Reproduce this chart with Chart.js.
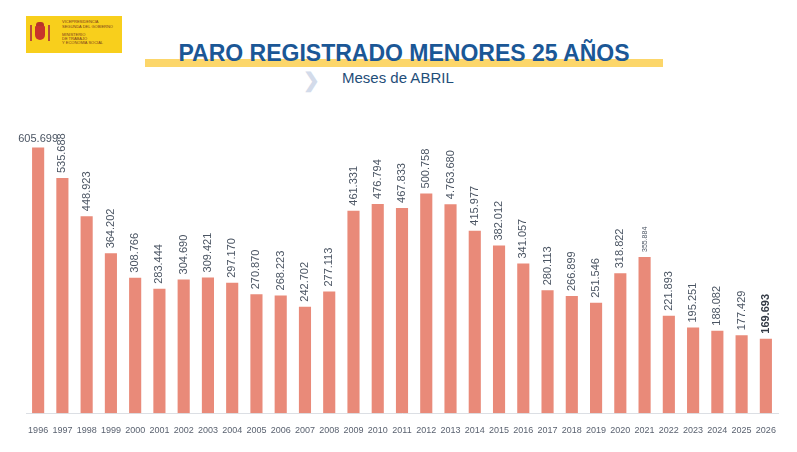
<!DOCTYPE html>
<html lang="es">
<head>
<meta charset="utf-8">
<title>Paro registrado menores 25 años</title>
<script src="https://cdn.jsdelivr.net/npm/chart.js@4.4.1/dist/chart.umd.min.js"></script>
<style>
  html, body { margin: 0; padding: 0; background: #fff; }
  #wrap { position: relative; width: 797px; height: 452px; overflow: hidden; font-family: "Liberation Sans", Arial, sans-serif; }
  #chart { position: absolute; left: 0; top: 0; }
  .logo { position: absolute; left: 26px; top: 16px; width: 96px; height: 37px; background: #f8cf1c; }
  .logo .shield { position: absolute; left: 9px; top: 10px; width: 10px; height: 14px; background: #c8332b; border-radius: 1px 1px 5px 5px; }
  .logo .crown { position: absolute; left: 10px; top: 6px; width: 8px; height: 4px; background: #b8322a; border-radius: 3px 3px 0 0; }
  .logo .col { position: absolute; top: 9px; width: 2px; height: 16px; background: #b9493a; }
  .logo .txt { position: absolute; left: 36px; font-size: 4px; line-height: 4px; color: #7a3b1c; white-space: nowrap; letter-spacing: 0; }
  .band { position: absolute; left: 145px; top: 59px; width: 518px; height: 8px; background: #fcd66a; }
  .title { position: absolute; left: 0; width: 808px; top: 40px; text-align: center; font-weight: bold; font-size: 23px; color: #1b5796; }
  .chev { position: absolute; left: 303px; top: 68px; font-size: 20px; font-weight: bold; color: #d3dbea; }
  .sub { position: absolute; left: 342px; top: 69px; font-size: 15px; color: #1f4e79; }
</style>
</head>
<body>
<div id="wrap">
  <div class="logo">
    <div class="col" style="left:4px"></div>
    <div class="crown"></div>
    <div class="shield"></div>
    <div class="col" style="left:22px"></div>
    <div class="txt" style="top:4px">VICEPRESIDENCIA</div>
    <div class="txt" style="top:9px">SEGUNDA DEL GOBIERNO</div>
    <div class="txt" style="top:17px">MINISTERIO</div>
    <div class="txt" style="top:21px">DE TRABAJO</div>
    <div class="txt" style="top:25px">Y ECONOMÍA SOCIAL</div>
  </div>
  <div class="band"></div>
  <div class="title">PARO REGISTRADO MENORES 25 AÑOS</div>
  <div class="chev">&#x276F;</div>
  <div class="sub">Meses de ABRIL</div>
  <canvas id="chart" width="797" height="452"></canvas>
</div>
<script>
// Años (meses de abril)
const years = ['1996', '1997', '1998', '1999', '2000', '2001', '2002', '2003', '2004', '2005',
  '2006', '2007', '2008', '2009', '2010', '2011', '2012', '2013', '2014', '2015',
  '2016', '2017', '2018', '2019', '2020', '2021', '2022', '2023', '2024', '2025', '2026'];

// Parados menores de 25 años
const parados = [605699, 535688, 448923, 364202, 308766, 283444, 304690, 309421, 297170, 270870,
  268223, 242702, 277113, 461331, 476794, 467833, 500758, 476368, 415977, 382012,
  341057, 280113, 266899, 251546, 318822, 355884, 221893, 195251, 188082, 177429, 169693];

// Etiquetas tal como aparecen en el gráfico
const etiquetas = ['605.699', '535.688', '448.923', '364.202', '308.766', '283.444', '304.690', '309.421', '297.170', '270.870',
  '268.223', '242.702', '277.113', '461.331', '476.794', '467.833', '500.758', '4.763.680', '415.977', '382.012',
  '341.057', '280.113', '266.899', '251.546', '318.822', '355.884', '221.893', '195.251', '188.082', '177.429', '169.693'];

// Etiquetas de valor encima de cada barra
const valueLabels = {
    id: 'valueLabels',
    afterDatasetsDraw(chart) {
        const ctx = chart.ctx;
        const bars = chart.getDatasetMeta(0).data;
        ctx.save();
        bars.forEach((bar, i) => {
            const last = i === bars.length - 1;
            let size = 11;
            if (years[i] === '2021') size = 7;
            ctx.font = (last ? 'bold ' : '') + size + 'px "Liberation Sans", Arial, sans-serif';
            ctx.fillStyle = last ? '#333a45' : '#4b5563';
            if (i === 0) {
                ctx.textAlign = 'center';
                ctx.textBaseline = 'bottom';
                ctx.fillText(etiquetas[i], bar.x, bar.y - 3);
            } else {
                ctx.save();
                ctx.translate(bar.x, bar.y - 5);
                ctx.rotate(-Math.PI / 2);
                ctx.textAlign = 'left';
                ctx.textBaseline = 'middle';
                ctx.fillText(etiquetas[i], 0, 0);
                ctx.restore();
            }
        });
        ctx.restore();
    }
};

const createParoChart = () => {
    const ctx = document.getElementById('chart').getContext('2d');
    new Chart(ctx, {
        type: 'bar',
        data: {
            labels: years,
            datasets: [{
                label: 'Paro registrado menores 25 años',
                data: parados,
                backgroundColor: '#e98a79',
                barPercentage: 0.5,
                categoryPercentage: 1.0
            }]
        },
        options: {
            responsive: false,
            animation: false,
            layout: { padding: { left: 26, right: 19, top: 106, bottom: 12 } },
            plugins: {
                legend: { display: false },
                tooltip: { enabled: false }
            },
            scales: {
                x: {
                    grid: { display: false },
                    border: { display: true, color: '#dcdfe4' },
                    ticks: {
                        color: '#5a6270',
                        font: { size: 9, family: '"Liberation Sans", Arial, sans-serif' },
                        padding: 4,
                        maxRotation: 0,
                        autoSkip: false
                    }
                },
                y: {
                    display: false,
                    min: 0,
                    max: 700000
                }
            }
        },
        plugins: [valueLabels]
    });
};

document.addEventListener('DOMContentLoaded', createParoChart);
</script>
</body>
</html>
